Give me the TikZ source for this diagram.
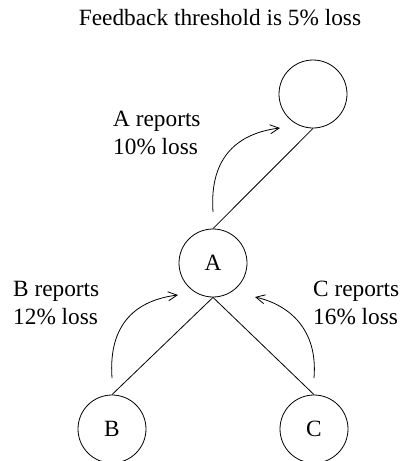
\documentclass[tikz,border=0pt]{standalone}
\usepackage{fontspec}
\setmainfont{Liberation Serif}
\usetikzlibrary{arrows.meta}
\begin{document}
\begin{tikzpicture}[x=1pt,y=-1pt,
  font=\fontsize{23.3}{27.6}\selectfont,
  peer/.style={draw, circle, minimum size=68pt, inner sep=0pt, line width=0.8pt},
  link/.style={line width=0.8pt},
  report/.style={line width=0.8pt, -{Straight Barb[length=9pt,width=9pt]}},
  lbl/.style={align=left, inner sep=0pt, anchor=base west}]
\clip (0,0) rectangle (401,461);
\node[anchor=base, inner sep=0pt] (title) at (220,25) {Feedback threshold is 5\% loss};
\node[peer] (T) at (313,94) {};
\node[peer] (A) at (213,263) {A};
\node[peer] (B) at (112,429) {B};
\node[peer] (C) at (314,429) {C};
\draw[link] (A.north) -- (T.south);
\draw[link] (B.north) -- (A.south);
\draw[link] (C.north) -- (A.south);
\node[lbl] (la) at (113,154.5) {A reports\\10\% loss};
\node[lbl] (lb) at (13,324.5) {B reports\\12\% loss};
\node[lbl] (lc) at (313,324.5) {C reports\\16\% loss};
\coordinate (as) at (213,212);
\coordinate (ae) at (280,128);
\coordinate (bs) at (112,378);
\coordinate (be) at (178,295);
\coordinate (cs) at (314,378);
\coordinate (ce) at (255,297);
\draw[report] (as) .. controls (209,155) and (240,133) .. (ae);
\draw[report] (bs) .. controls (108,322) and (138,300) .. (be);
\draw[report] (cs) .. controls (318,330) and (290,305) .. (ce);
\end{tikzpicture}
\end{document}
